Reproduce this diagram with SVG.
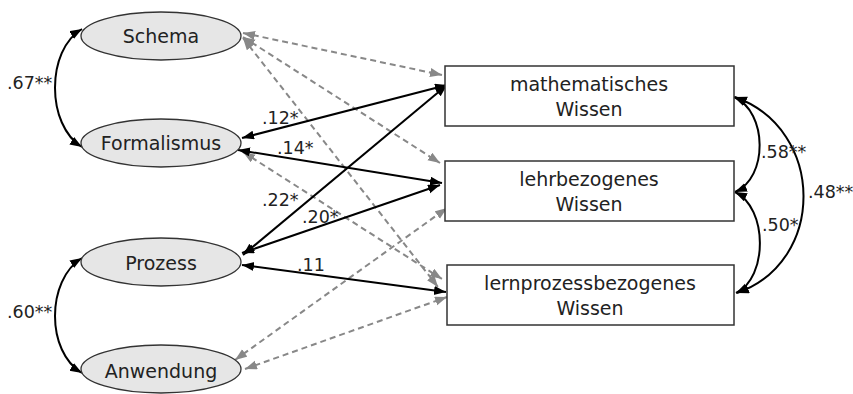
<svg xmlns="http://www.w3.org/2000/svg" width="853" height="394" viewBox="0 0 853 394">
<style>
text{font-family:"DejaVu Sans","Liberation Sans",sans-serif;fill:#222}
.nt{font-size:19px;text-anchor:middle}
.lb{font-size:17.5px}
.ell{fill:#e6e6e6;stroke:#333;stroke-width:1.3}
.box{fill:#fff;stroke:#333;stroke-width:1.5}
.s{fill:none;stroke:#000;stroke-width:2;marker-start:url(#ab);marker-end:url(#ab)}
.d{fill:none;stroke:#888;stroke-width:2;stroke-dasharray:6 4;marker-start:url(#ag);marker-end:url(#ag)}
</style>
<defs>
<marker id="ab" markerUnits="userSpaceOnUse" markerWidth="13" markerHeight="10" refX="12" refY="4.5" orient="auto-start-reverse"><path d="M0,0L12,4.5L0,9z" fill="#000"/></marker>
<marker id="ag" markerUnits="userSpaceOnUse" markerWidth="13" markerHeight="10" refX="12" refY="4.5" orient="auto-start-reverse"><path d="M0,0L12,4.5L0,9z" fill="#888"/></marker>
</defs>
<rect width="853" height="394" fill="#fff"/>
<g id="connectors">
<path class="d" d="M243,33L442,75"/>
<path class="d" d="M243,37L440,163"/>
<path class="d" d="M243,38L438,287"/>
<path class="d" d="M243,152L442,279"/>
<path class="d" d="M235,360L447,208"/>
<path class="d" d="M245,369L447,297"/>
<path class="s" d="M242,138L447,85"/>
<path class="s" d="M238,150L442,183"/>
<path class="s" d="M243,255L447,85"/>
<path class="s" d="M242,253L440,185"/>
<path class="s" d="M242,265L446,292"/>
<path class="s" d="M82,29C46,50 46,125 82,147"/>
<path class="s" d="M82,258C46,280 46,352 82,373"/>
<path class="s" d="M734,97C768,112 768,178 735,192"/>
<path class="s" d="M735,192C768,208 768,278 736,293"/>
<path class="s" d="M735,97C826,130 826,262 737,293"/>
<text class="lb" x="7" y="89">.67**</text>
<text class="lb" x="7" y="318">.60**</text>
<text class="lb" x="262" y="124">.12*</text>
<text class="lb" x="277" y="154">.14*</text>
<text class="lb" x="262" y="206">.22*</text>
<text class="lb" x="302" y="223">.20*</text>
<text class="lb" x="297" y="271">.11</text>
<text class="lb" x="761" y="158">.58**</text>
<text class="lb" x="762" y="231">.50*</text>
<text class="lb" x="808" y="198">.48**</text>
</g>
<g id="schema"><ellipse class="ell" cx="161" cy="36" rx="80" ry="24"/><text class="nt" x="161" y="43">Schema</text></g>
<g id="formalismus"><ellipse class="ell" cx="161" cy="143" rx="80" ry="24"/><text class="nt" x="161" y="150">Formalismus</text></g>
<g id="prozess"><ellipse class="ell" cx="161" cy="262" rx="80" ry="24"/><text class="nt" x="161" y="270">Prozess</text></g>
<g id="anwendung"><ellipse class="ell" cx="161" cy="369" rx="80" ry="24"/><text class="nt" x="161" y="378">Anwendung</text></g>
<g id="math"><rect class="box" x="445" y="66" width="289" height="60"/><text class="nt" x="589" y="91">mathematisches</text><text class="nt" x="589" y="116">Wissen</text></g>
<g id="lehr"><rect class="box" x="445" y="161" width="289" height="60"/><text class="nt" x="589" y="186">lehrbezogenes</text><text class="nt" x="589" y="211">Wissen</text></g>
<g id="lern"><rect class="box" x="447" y="265" width="287" height="60"/><text class="nt" x="590" y="290">lernprozessbezogenes</text><text class="nt" x="590" y="315">Wissen</text></g>
</svg>
